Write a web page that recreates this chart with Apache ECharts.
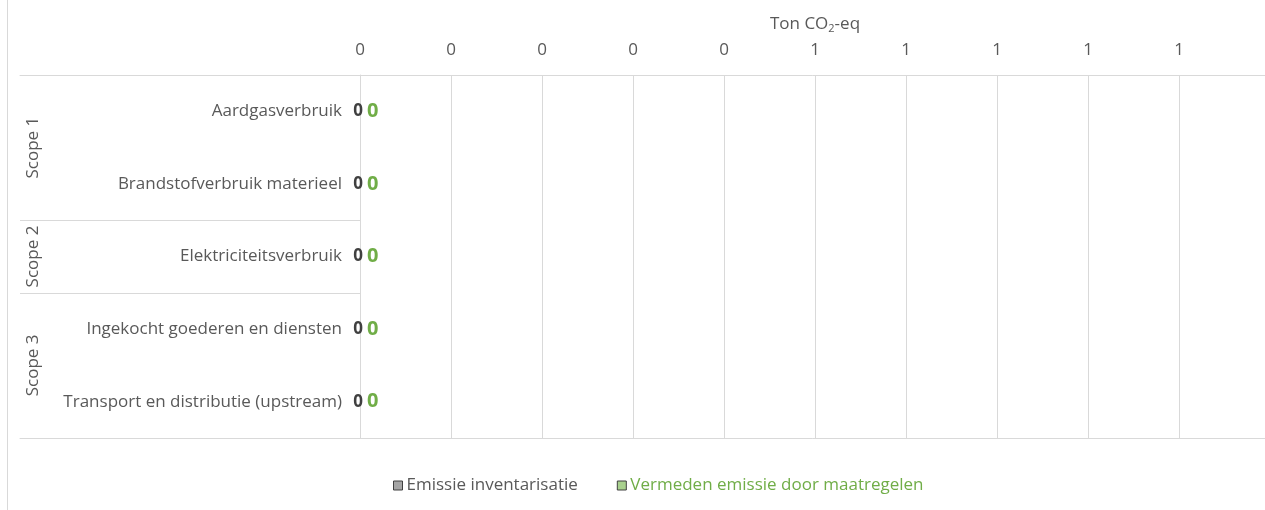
<!DOCTYPE html>
<html>
<head>
<meta charset="utf-8">
<script src="https://cdn.jsdelivr.net/npm/echarts@6/dist/echarts.min.js"></script>
<style>
  html, body { margin: 0; padding: 0; background: #fff; }
  #main { width: 1265px; height: 510px; }
</style>
</head>
<body>
<div id="main"></div>
<script>
// data
var categories = [
    "Aardgasverbruik",
    "Brandstofverbruik materieel",
    "Elektriciteitsverbruik",
    "Ingekocht goederen en diensten",
    "Transport en distributie (upstream)"
];
var emissie = [0, 0, 0, 0, 0];
var vermeden = [0, 0, 0, 0, 0];
var scopes = ["Scope 1", "Scope 2", "Scope 3"];
var scopeSizes = [2, 1, 2];
var seriesNames = ["Emissie inventarisatie", "Vermeden emissie door maatregelen"];

var FONT = "Open Sans";
var TXT = "#595959";
var GRIDC = "#d9d9d9";
var GREEN = "#70ad47";
var FS = 17;

// plot geometry
var TOP = 75, HEIGHT = 363;
var rowH = HEIGHT / categories.length;

var myChart = echarts.init(document.getElementById("main"));

// scope labels (rotated) centred on their group of rows
var scopeTexts = [];
var start = 0;
for (var i = 0; i < scopes.length; i++) {
    scopeTexts.push({
        type: "text",
        x: 33,
        y: TOP + (start + scopeSizes[i] / 2) * rowH,
        rotation: Math.PI / 2,
        style: {
            text: scopes[i],
            fill: TXT,
            font: FS + "px '" + FONT + "'",
            align: "center",
            verticalAlign: "middle"
        }
    });
    start += scopeSizes[i];
}
// first row of each scope group -> separator lines
var groupStarts = [];
var acc = 0;
for (var k = 0; k < scopeSizes.length; k++) { groupStarts.push(acc); acc += scopeSizes[k]; }

var option = {
    animation: false,
    textStyle: { fontFamily: FONT },
    grid: [
        { left: 360, right: -5, top: TOP, height: HEIGHT, outerBoundsMode: "none", containLabel: false },
        { left: 20, width: 340, top: TOP, height: HEIGHT, outerBoundsMode: "none", containLabel: false }
    ],
    xAxis: [
        {
            type: "value", gridIndex: 0, position: "top",
            min: 0, max: 1, interval: 0.1,
            name: "{a|Ton CO}{s|2}{a|-eq}",
            nameLocation: "middle",
            nameGap: 41,
            nameTextStyle: {
                rich: {
                    a: { fontSize: FS, color: TXT, fontFamily: FONT },
                    s: { fontSize: 11, color: TXT, fontFamily: FONT, padding: [9, 0, 0, 0] }
                }
            },
            axisLine: { show: true, lineStyle: { color: GRIDC, width: 1 } },
            axisTick: { show: false },
            axisLabel: {
                color: TXT, fontSize: FS, margin: 16,
                formatter: function (v) { return String(Math.round(v)); }
            },
            splitLine: { show: true, lineStyle: { color: GRIDC, width: 1 } }
        },
        {
            type: "value", gridIndex: 0, position: "bottom", min: 0, max: 1,
            axisLine: { show: true, lineStyle: { color: GRIDC } },
            axisTick: { show: false }, axisLabel: { show: false }, splitLine: { show: false }
        },
        {
            type: "value", gridIndex: 1, position: "top", min: 0, max: 1,
            axisLine: { show: true, lineStyle: { color: GRIDC } },
            axisTick: { show: false }, axisLabel: { show: false }, splitLine: { show: false }
        },
        {
            type: "value", gridIndex: 1, position: "bottom", min: 0, max: 1,
            axisLine: { show: true, lineStyle: { color: GRIDC } },
            axisTick: { show: false }, axisLabel: { show: false }, splitLine: { show: false }
        }
    ],
    yAxis: [
        {
            type: "category", gridIndex: 0, inverse: true,
            data: categories,
            axisLine: { show: true, lineStyle: { color: GRIDC } },
            axisTick: { show: false },
            axisLabel: { color: TXT, fontSize: FS, margin: 18 }
        },
        {
            type: "category", gridIndex: 1, inverse: true,
            data: categories,
            axisLine: { show: false }, axisTick: { show: false }, axisLabel: { show: false },
            splitLine: {
                show: true,
                interval: function (index) { return groupStarts.indexOf(index) > 0; },
                lineStyle: { color: GRIDC, width: 1 }
            }
        }
    ],
    legend: {
        left: 388, top: 472,
        itemWidth: 9, itemHeight: 9, itemGap: 39,
        icon: "rect",
        textStyle: { fontSize: FS, color: TXT, fontFamily: FONT, padding: [0, 0, 0, -1] },
        data: [
            { name: seriesNames[0], itemStyle: { color: "#a5a5a5", borderColor: "#404040", borderWidth: 1 } },
            { name: seriesNames[1], itemStyle: { color: "#a9d18e", borderColor: "#404040", borderWidth: 1 }, textStyle: { color: GREEN } }
        ]
    },
    graphic: [
        { type: "line", shape: { x1: 7.5, y1: 0, x2: 7.5, y2: 510 }, style: { stroke: GRIDC, lineWidth: 1 } }
    ].concat(scopeTexts),
    series: [
        {
            name: seriesNames[0], type: "bar", xAxisIndex: 0, yAxisIndex: 0,
            data: emissie, barWidth: 30, barGap: "-100%", z: 3,
            itemStyle: { color: "#a5a5a5" },
            label: {
                show: true, position: "left", distance: -3, offset: [0, 0],
                color: "#404040", fontWeight: "bold", fontSize: 17, fontFamily: FONT
            }
        },
        {
            name: seriesNames[1], type: "bar", xAxisIndex: 0, yAxisIndex: 0,
            data: vermeden, barWidth: 30, barGap: "-100%",
            itemStyle: { color: "#a9d18e" },
            label: {
                show: true, position: "right", distance: 7,
                color: GREEN, fontWeight: "bold", fontSize: 20, fontFamily: FONT
            }
        }
    ]
};
myChart.setOption(option);
</script>
</body>
</html>
